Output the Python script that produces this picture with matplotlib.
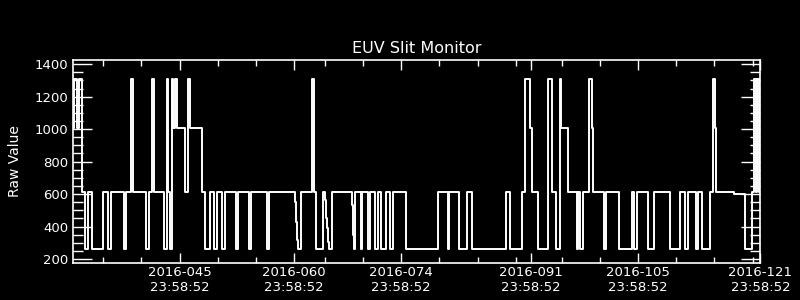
import numpy as np
import matplotlib
matplotlib.use("Agg")
import matplotlib.pyplot as plt

# Step changes of the slit monitor: day of year (2016) where each level starts
change_days = [
    32.00, 32.17, 32.60, 32.79, 33.26, 33.65, 34.00, 34.53, 36.01, 36.62,
    36.97, 38.68, 39.02, 39.67, 39.93, 41.63, 41.99, 42.42, 42.68, 43.99,
    44.30, 44.43, 44.70, 45.04, 45.17, 45.35, 45.61, 46.66, 47.05, 47.39,
    48.96, 49.36, 50.01, 50.53, 50.93, 51.58, 51.97, 53.34, 53.68, 55.04,
    55.38, 57.39, 57.73, 61.14, 61.27, 61.40, 61.53, 61.92, 63.36, 63.62,
    63.89, 64.80, 65.06, 65.19, 65.33, 65.46, 65.59, 65.98, 68.60, 68.73,
    68.86, 68.95, 69.74, 69.91, 70.61, 70.95, 71.53, 71.92, 72.39, 73.05,
    73.57, 73.96, 75.59, 79.85, 81.08, 81.29, 82.60, 83.65, 84.30, 88.68,
    89.28, 90.85, 91.24, 91.82, 92.05, 92.94, 94.25, 94.78, 95.30, 95.82,
    95.92, 96.87, 97.97, 98.18, 98.44, 98.83, 99.54, 99.93, 100.14, 101.50,
    101.84, 103.55, 105.21, 105.51, 105.90, 107.24, 108.13, 110.22, 111.53, 112.18,
    112.58, 113.55, 113.89, 114.41, 115.38, 115.85, 116.11, 116.24, 118.56, 120.00,
    120.88, 121.11, 121.44, 121.57, 121.83, 122.00,
]
raw_values = [
    1005, 1310, 1005, 1310, 612, 262, 612, 262, 612, 262,
    612, 262, 612, 1310, 612, 262, 612, 1310, 612, 262,
    1310, 612, 262, 1310, 1005, 1310, 1005, 612, 1310, 1005,
    612, 262, 612, 262, 612, 262, 612, 262, 612, 262,
    612, 262, 612, 553, 430, 318, 262, 612, 1310, 612,
    262, 612, 564, 451, 390, 307, 262, 612, 533, 348,
    262, 612, 262, 612, 262, 612, 262, 612, 262, 612,
    262, 612, 262, 612, 262, 612, 262, 612, 262, 612,
    262, 612, 1310, 1005, 612, 262, 1310, 612, 262, 1310,
    1005, 612, 262, 612, 262, 612, 1310, 1005, 612, 262,
    612, 262, 612, 262, 612, 262, 612, 262, 612, 262,
    612, 262, 612, 262, 612, 1310, 1005, 612, 600, 262,
    612, 1310, 612, 1310, 612, 612,
]

major_days = [45, 60, 74, 91, 105, 121]
minor_days = [35, 40, 50, 55, 64, 69, 79, 84, 89, 95, 100, 110, 115, 120]
tick_time = "23:58:52"
y_major = [200, 400, 600, 800, 1000, 1200, 1400]

END_OF_DAY = 1 - 68 / 86400.0  # 23:58:52 as fraction of a day

fig = plt.figure(figsize=(8, 3), dpi=100, facecolor="black")
ax = fig.add_axes([0.0909, 0.1233, 0.8595, 0.6777], facecolor="black")

ax.plot(change_days, raw_values, drawstyle="steps-post", color="white", lw=1.4)

ax.set_xlim(31 + END_OF_DAY, 121 + END_OF_DAY)
ax.set_ylim(175, 1428)

ax.set_xticks([d + END_OF_DAY for d in major_days])
ax.set_xticklabels([f"2016-{d:03d}\n{tick_time}" for d in major_days])
ax.set_xticks([d + END_OF_DAY for d in minor_days], minor=True)
ax.set_yticks(y_major)
ax.set_yticks(np.arange(200, 1401, 50), minor=True)

ax.tick_params(axis="both", which="both", direction="in", colors="white",
               top=True, right=True, labelsize=9.5, width=1)
ax.tick_params(axis="x", which="major", length=7, pad=2)
ax.tick_params(axis="x", which="minor", length=4)
ax.tick_params(axis="y", which="major", length=14, pad=3)
ax.tick_params(axis="y", which="minor", length=7)

for spine in ax.spines.values():
    spine.set_color("white")
    spine.set_linewidth(1.2)

ax.set_title("EUV Slit Monitor", color="white", fontsize=11.5, pad=5)
ax.set_ylabel("Raw Value", color="white", fontsize=10, labelpad=9)

fig.savefig("out.png", dpi=100, facecolor="black")
